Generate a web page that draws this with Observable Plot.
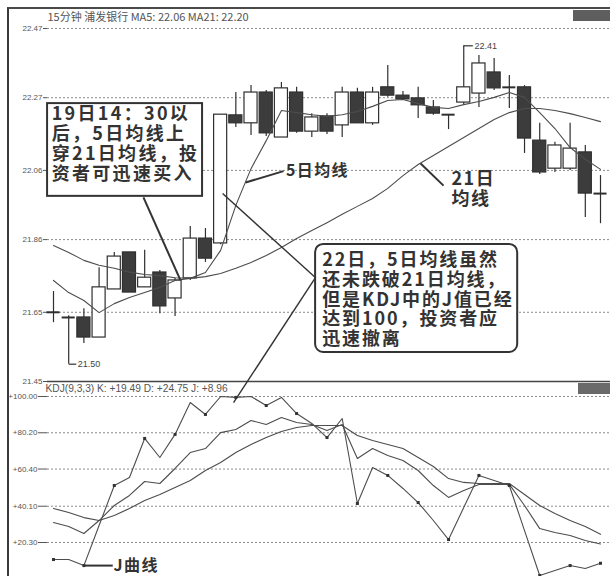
<!DOCTYPE html>
<html><head><meta charset="utf-8">
<script src="https://cdn.jsdelivr.net/npm/d3@7"></script>
<script src="https://cdn.jsdelivr.net/npm/@observablehq/plot@0.6"></script>
<style>
html,body{margin:0;padding:0;background:#fff;}
#wrap{position:relative;width:610px;height:576px;overflow:hidden;background:#fff;}
#wrap svg{position:absolute;left:0;}
#frame{position:absolute;left:7px;top:7px;width:603px;height:569px;border-left:2px solid #3a3a3a;border-top:2px solid #4a4a4a;box-sizing:border-box;pointer-events:none;}
.tag{position:absolute;background:#5e5e5e;}
g[aria-description="note"] text{letter-spacing:2.3px;}
g[aria-description="noteB"] text{letter-spacing:1.9px;}
g[aria-description="note2"] text{letter-spacing:1.4px;}
</style></head><body><div id="wrap"><div id="frame"></div></div>
<script>
// ---- price panel data (15-minute bars) ----
const open  = [21.65,21.635,21.635,21.577,21.716,21.823,21.722,21.765,21.690,21.748,21.863,21.849,22.219,22.196,22.285,22.155,22.285,22.172,22.216,22.190,22.285,22.196,22.300,22.276,22.268,22.242,22.221,22.256,22.282,22.343,22.300,22.300,22.146,22.065,22.065,22.112,21.993];
const high  = [21.71,21.64,21.66,21.779,21.823,21.823,21.829,21.771,21.748,21.898,21.892,22.221,22.285,22.305,22.291,22.314,22.300,22.224,22.224,22.300,22.297,22.300,22.363,22.288,22.300,22.262,22.221,22.42,22.392,22.383,22.334,22.305,22.196,22.141,22.196,22.132,22.045];
const low   = [21.62,21.50,21.56,21.577,21.716,21.707,21.722,21.646,21.638,21.742,21.794,21.845,22.184,22.161,22.158,22.155,22.167,22.155,22.164,22.155,22.196,22.190,22.271,22.262,22.210,22.219,22.178,22.250,22.242,22.291,22.239,22.109,22.048,22.054,22.060,21.924,21.906];
const close = [21.65,21.635,21.577,21.722,21.811,21.707,21.750,21.667,21.742,21.863,21.805,22.221,22.196,22.285,22.167,22.297,22.172,22.213,22.172,22.285,22.196,22.285,22.276,22.265,22.248,22.224,22.221,22.300,22.369,22.297,22.300,22.152,22.054,22.132,22.123,21.993,21.993];
const ma5   = [21.742,21.707,21.684,21.649,21.675,21.693,21.707,21.722,21.742,21.748,21.765,21.829,21.959,22.065,22.146,22.233,22.227,22.221,22.216,22.221,22.230,22.245,22.262,22.265,22.253,22.242,22.239,22.250,22.259,22.271,22.285,22.271,22.227,22.181,22.126,22.092,22.063];
const ma21  = [21.843,21.823,21.800,21.786,21.777,21.766,21.759,21.756,21.750,21.748,21.753,21.762,21.777,21.794,21.814,21.837,21.863,21.886,21.909,21.933,21.956,21.979,22.008,22.045,22.077,22.103,22.129,22.155,22.181,22.207,22.227,22.239,22.239,22.233,22.224,22.213,22.201];
const priceTicks = [21.45,21.65,21.86,22.06,22.27,22.47];
const lowMark = {i:1, v:21.50, label:"21.50"};
const highMark = {i:27, v:22.42, label:"22.41"};
const titleText = "15分钟 浦发银行 MA5: 22.06 MA21: 22.20";

// ---- KDJ panel data ----
const kK = [31.2,29.0,25.2,32.3,40.5,46.0,53.6,52.5,60.7,69.4,71.6,80.3,82.0,86.9,84.7,88.5,85.8,84.7,81.4,84.7,66.2,71.6,67.8,65.1,59.6,51.4,44.9,48.7,52.0,52.0,52.0,40.5,27.9,25.8,24.1,21.4,19.49];
const kD = [38.9,36.7,33.9,32.3,35.0,38.9,43.2,46.5,50.3,54.1,59.6,64.0,69.4,73.8,77.6,80.9,83.1,84.2,84.2,84.2,78.7,76.0,73.8,71.6,66.7,61.8,55.2,53.1,52.5,52.5,52.5,46.5,40.5,36.1,32.3,29.0,24.75];
const kJ = [11.0,11.0,7.7,29.6,51.4,55.8,77.1,66.7,79.3,96.7,90.2,100,99.5,100,95.1,99.5,90.7,85.3,77.6,88.0,41.6,61.2,56.9,49.8,42.1,32.3,21.9,39.4,56.9,54.1,51.4,26.8,2.3,5.0,7.7,6.1,8.96];
const kdjTicks = [100,80.2,60.4,40.1,20.3];
const kdjTickLabels = ["+100.00","+80.20","+60.40","+40.10","+20.30"];
const kdjTitle = "KDJ(9,3,3) K: +19.49 D: +24.75 J: +8.96";

// ---- annotation texts ----
const note1 = "19日14：30以\n后，5日均线上\n穿21日均线，投\n资者可迅速买入";
const note2 = "22日，5日均线虽然\n还未跌破21日均线，\n但是KDJ中的J值已经\n达到100，投资者应\n迅速撤离";
const label5 = "5日均线";
const label21 = "21日\n均线";
const labelJ = "J曲线";

const bars = open.map((o, i) => ({i, o, h: high[i], l: low[i], c: close[i], ma5: ma5[i], ma21: ma21[i]}));
const bodies = bars.filter(d => Math.abs(d.c - d.o) > 0.002);
const dojis = bars.filter(d => Math.abs(d.c - d.o) <= 0.002);
const kdjRows = kK.map((k, i) => ({i, k, d: kD[i], j: kJ[i]}));

const ink = "#2f2f2f", lineInk = "#4d4d4d", gridInk = "#8c8c8c";
const latin = "'Liberation Sans', Arial, sans-serif";
const cjk = "'Noto Sans CJK SC', 'Noto Sans CJK JP', sans-serif";
const plotStyle = {background: "transparent", overflow: "visible", fontFamily: latin};
const xScale = {domain: [0, 36], range: [53, 600], axis: null};

const topPlot = Plot.plot({
  width: 610, height: 382, marginLeft: 47, marginRight: 0, marginTop: 28, marginBottom: 1,
  style: plotStyle,
  x: xScale,
  y: {domain: [21.45, 22.47], axis: null, label: null},
  marks: [
    Plot.gridY(priceTicks.filter(t => t !== 21.45), {stroke: gridInk, strokeOpacity: 1, strokeDasharray: "2,2"}),
    Plot.ruleY([21.45], {stroke: "#454545", strokeWidth: 1.3}),
    Plot.axisY(priceTicks, {anchor: "left", tickSize: 4, tickPadding: 1, tickFormat: d => d.toFixed(2), fontSize: 8, color: "#555", label: null}),
    Plot.ruleX(bars, {x: d => d.i, y1: d => d.l, y2: d => d.h, stroke: ink, strokeWidth: 1.2}),
    Plot.rect(bodies, {x1: d => d.i - 0.43, x2: d => d.i + 0.43, y1: d => Math.min(d.o, d.c), y2: d => Math.max(d.o, d.c),
      fill: d => d.c < d.o ? "#3c3c3c" : "#ffffff", stroke: ink, strokeWidth: 1.2}),
    Plot.ruleY(dojis, {x1: d => d.i - 0.43, x2: d => d.i + 0.43, y: d => d.c, stroke: ink, strokeWidth: 2}),
    Plot.line(bars, {x: d => d.i, y: d => d.ma21, stroke: lineInk, strokeWidth: 1.1}),
    Plot.line(bars, {x: d => d.i, y: d => d.ma5, stroke: lineInk, strokeWidth: 1.1}),
    // low / high markers
    Plot.link([lowMark], {x1: d => d.i, x2: d => d.i + 0.5, y1: d => d.v, y2: d => d.v, stroke: ink, strokeWidth: 1.2}),
    Plot.text([lowMark], {x: d => d.i + 0.6, y: d => d.v, text: d => d.label, textAnchor: "start", fontSize: 9, fill: "#444"}),
    Plot.link([highMark], {x1: d => d.i, x2: d => d.i + 0.6, y1: d => d.v, y2: d => d.v, stroke: ink, strokeWidth: 1.2}),
    Plot.text([highMark], {x: d => d.i + 0.7, y: d => d.v, text: d => d.label, textAnchor: "start", fontSize: 9, fill: "#444"}),
    // annotation box 1
    Plot.rect([0], {x1: -0.39, x2: 9.81, y1: 21.985, y2: 22.253, fill: "#fff", stroke: "#333", strokeWidth: 2}),
    Plot.text([note1], {x: -0.12, y: 22.246, textAnchor: "start", lineAnchor: "top", lineHeight: 1.11, fontSize: 18,
      fontWeight: "bold", fontFamily: cjk, fill: "#333", ariaDescription: "note"}),
    Plot.link([0], {x1: 5.92, y1: 21.982, x2: 8.36, y2: 21.742, stroke: "#333", strokeWidth: 2}),
    // annotation box 2
    Plot.rect([0], {x1: 17.25, x2: 30.55, y1: 21.534, y2: 21.846, rx: 8, fill: "#fff", stroke: "#333", strokeWidth: 2}),
    Plot.text([note2], {x: 17.68, y: 21.826, textAnchor: "start", lineAnchor: "top", lineHeight: 1.11, fontSize: 18,
      fontWeight: "bold", fontFamily: cjk, fill: "#333", ariaDescription: "noteB"}),
    Plot.link([0], {x1: 11.13, y1: 21.993, x2: 17.25, y2: 21.750, stroke: "#333", strokeWidth: 1.4}),
    // MA labels
    Plot.link([0], {x1: 12.64, y1: 22.025, x2: 15.14, y2: 22.058, stroke: "#333", strokeWidth: 2}),
    Plot.text([label5], {x: 15.3, y: 22.058, textAnchor: "start", fontSize: 16, fontWeight: "bold", fontFamily: cjk, fill: "#333", ariaDescription: "note2"}),
    Plot.link([0], {x1: 24.16, y1: 22.08, x2: 25.67, y2: 22.016, stroke: "#333", strokeWidth: 2}),
    Plot.text([label21], {x: 26.2, y: 22.007, textAnchor: "start", lineAnchor: "middle", lineHeight: 1.1, fontSize: 18, fontWeight: "bold", fontFamily: cjk, fill: "#333", ariaDescription: "note2"}),
    // title
    Plot.text([titleText], {frameAnchor: "top-left", dy: -11.5, lineAnchor: "middle", textAnchor: "start", fontSize: 11, fill: "#555", fontFamily: cjk})
  ]
});
topPlot.style.top = "0px";

const kdjPlot = Plot.plot({
  width: 610, height: 194, marginLeft: 47, marginRight: 0, marginTop: 14, marginBottom: 34,
  style: plotStyle,
  x: xScale,
  y: {domain: [20.3, 100], range: [160, 14], axis: null, label: null},
  marks: [
    Plot.gridY(kdjTicks, {stroke: gridInk, strokeOpacity: 1, strokeDasharray: "2,2"}),
    Plot.axisY(kdjTicks, {anchor: "left", tickSize: 9, tickPadding: 1, tickFormat: d => kdjTickLabels[kdjTicks.indexOf(d)], fontSize: 8, color: "#555", label: null}),
    Plot.line(kdjRows, {x: d => d.i, y: d => d.d, stroke: lineInk, strokeWidth: 1.1}),
    Plot.line(kdjRows, {x: d => d.i, y: d => d.k, stroke: lineInk, strokeWidth: 1.1}),
    Plot.line(kdjRows, {x: d => d.i, y: d => d.j, stroke: lineInk, strokeWidth: 1.1}),
    Plot.dot(kdjRows.filter(d => d.i % 2 === 0), {x: d => d.i, y: d => d.j, symbol: "square", r: 1.7, fill: "#333"}),
    Plot.link([0], {x1: 2, y1: 7.7, x2: 3.9, y2: 7.7, stroke: "#333", strokeWidth: 2}),
    Plot.text([labelJ], {x: 3.95, y: 7.7, textAnchor: "start", fontSize: 16, fontWeight: "bold", fontFamily: cjk, fill: "#333", ariaDescription: "note2"}),
    Plot.link([0], {x1: 11.85, y1: 96.7, x2: 17.25, y2: 165, stroke: "#333", strokeWidth: 1.4}),
    Plot.text([kdjTitle], {frameAnchor: "top-left", dx: -2, dy: -7.5, lineAnchor: "middle", textAnchor: "start", fontSize: 10.2, fill: "#555"})
  ]
});
kdjPlot.style.top = "382px";

const wrap = document.getElementById("wrap");
wrap.insertBefore(topPlot, document.getElementById("frame"));
wrap.insertBefore(kdjPlot, document.getElementById("frame"));
const t1 = document.createElement("div"); t1.className = "tag";
Object.assign(t1.style, {left: "573px", top: "10px", width: "37px", height: "11px"});
const t2 = document.createElement("div"); t2.className = "tag";
Object.assign(t2.style, {left: "578px", top: "383px", width: "32px", height: "11px", background: "#6a6a6a"});
wrap.appendChild(t1); wrap.appendChild(t2);
</script></body></html>
